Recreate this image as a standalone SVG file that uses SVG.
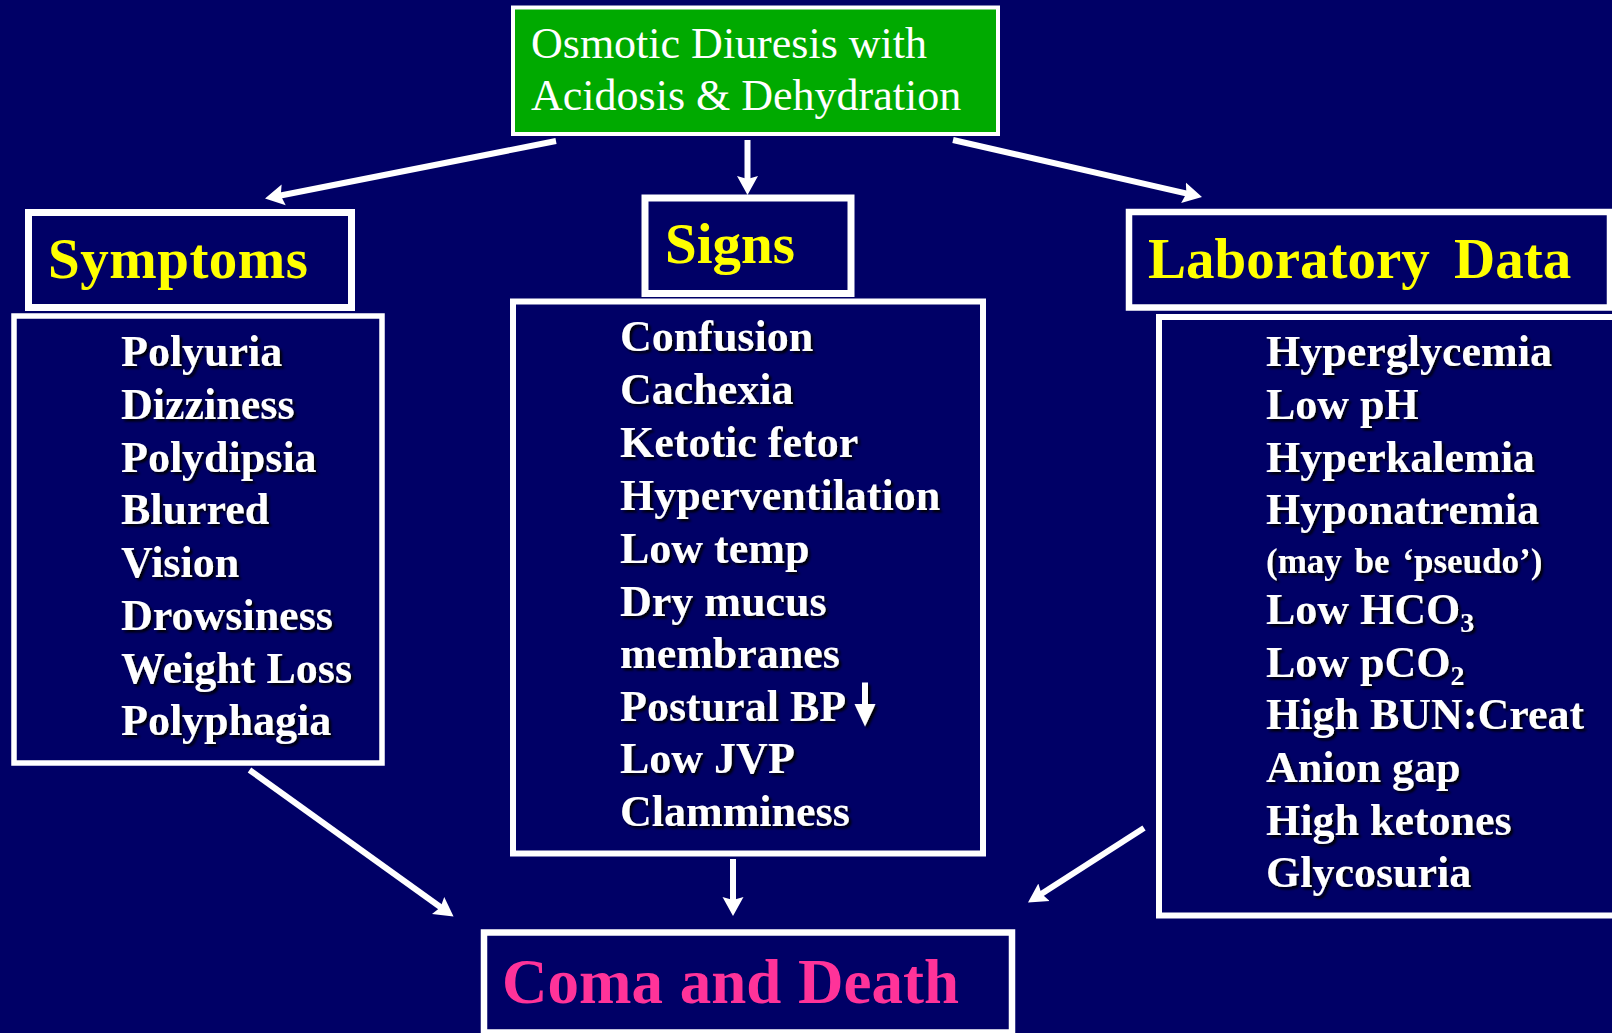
<svg xmlns="http://www.w3.org/2000/svg" width="1612" height="1033" viewBox="0 0 1612 1033">
<style>
.box{fill:#000066;stroke:#ffffff}
.title{font-family:"Liberation Serif","Times New Roman",serif;font-weight:bold;font-size:57px;fill:#ffff00}
.item{font-family:"Liberation Serif","Times New Roman",serif;font-weight:bold;font-size:44px;fill:#ffffff;filter:url(#sh)}
.top{font-family:"Liberation Serif","Times New Roman",serif;font-size:44px;fill:#ffffff}
.conn{stroke:#ffffff;stroke-width:6;fill:none;marker-end:url(#ah)}
</style>
<defs>
<filter id="sh" x="-10%" y="-30%" width="130%" height="160%">
<feDropShadow dx="2.5" dy="2.5" stdDeviation="0.8" flood-color="#000000" flood-opacity="0.95"/>
</filter>
<marker id="ah" markerUnits="userSpaceOnUse" markerWidth="21" markerHeight="23" viewBox="0 0 21 23" refX="7" refY="11.5" orient="auto">
<path d="M0,1 L19,11.5 L0,22 L3,11.5 z" fill="#ffffff"/>
</marker>
</defs>
<rect x="0" y="0" width="1612" height="1033" fill="#000066"/>

<g id="osmotic">
<rect x="513" y="7.5" width="485" height="126.5" fill="#00aa00" stroke="#ffffff" stroke-width="4"/>
<text class="top" x="531" y="58">Osmotic Diuresis with</text>
<text class="top" x="531" y="110">Acidosis &amp; Dehydration</text>
</g>

<g id="symptoms-title">
<rect class="box" x="28.5" y="212.5" width="323" height="95" stroke-width="7"/>
<text class="title" x="48" y="278" style="letter-spacing:0.5px">Symptoms</text>
</g>

<g id="signs-title">
<rect class="box" x="645" y="198" width="206" height="95.5" stroke-width="7"/>
<text class="title" x="665" y="263">Signs</text>
</g>

<g id="lab-title">
<rect class="box" x="1129" y="212" width="481" height="95.5" stroke-width="6.5"/>
<text class="title" x="1148" y="278" style="word-spacing:10px">Laboratory Data</text>
</g>

<g id="symptoms-list">
<rect class="box" x="14" y="316" width="368" height="447" stroke-width="5.5"/>
<text class="item" x="121" y="366">Polyuria</text>
<text class="item" x="121" y="418.5">Dizziness</text>
<text class="item" x="121" y="471.5">Polydipsia</text>
<text class="item" x="121" y="524">Blurred</text>
<text class="item" x="121" y="577">Vision</text>
<text class="item" x="121" y="630">Drowsiness</text>
<text class="item" x="121" y="682.5">Weight Loss</text>
<text class="item" x="121" y="735">Polyphagia</text>
</g>

<g id="signs-list">
<rect class="box" x="513" y="301.5" width="470" height="552" stroke-width="6"/>
<text class="item" x="620" y="351">Confusion</text>
<text class="item" x="620" y="404">Cachexia</text>
<text class="item" x="620" y="456.5">Ketotic fetor</text>
<text class="item" x="620" y="510">Hyperventilation</text>
<text class="item" x="620" y="563">Low temp</text>
<text class="item" x="620" y="615.5">Dry mucus</text>
<text class="item" x="620" y="668">membranes</text>
<text class="item" x="620" y="721">Postural BP</text>
<g filter="url(#sh)">
<rect x="862" y="682.5" width="6" height="24" fill="#ffffff"/>
<polygon points="854.5,704 875.5,704 865,726.5" fill="#ffffff"/>
</g>
<text class="item" x="620" y="773">Low JVP</text>
<text class="item" x="620" y="826">Clamminess</text>
</g>

<g id="lab-list">
<rect class="box" x="1159" y="317" width="460" height="598.5" stroke-width="6"/>
<text class="item" x="1266" y="366">Hyperglycemia</text>
<text class="item" x="1266" y="418.5">Low pH</text>
<text class="item" x="1266" y="472">Hyperkalemia</text>
<text class="item" x="1266" y="524">Hyponatremia</text>
<text class="item" x="1266" y="573" style="font-size:35px;word-spacing:4px">(may be ‘pseudo’)</text>
<text class="item" x="1266" y="624">Low HCO<tspan font-size="28" dy="8">3</tspan></text>
<text class="item" x="1266" y="677">Low pCO<tspan font-size="28" dy="8">2</tspan></text>
<text class="item" x="1266" y="729">High BUN:Creat</text>
<text class="item" x="1266" y="781.5">Anion gap</text>
<text class="item" x="1266" y="835">High ketones</text>
<text class="item" x="1266" y="887">Glycosuria</text>
</g>

<g id="coma">
<rect class="box" x="484" y="932.5" width="528" height="100" stroke-width="6.5"/>
<text x="502" y="1002.5" style="font-family:'Liberation Serif','Times New Roman',serif;font-weight:bold;font-size:63px;fill:#ff3399;word-spacing:1px">Coma and Death</text>
</g>

<g id="connectors">
<line class="conn" x1="556" y1="141" x2="276.8" y2="196.2"/>
<line class="conn" x1="747.5" y1="140" x2="747.5" y2="183"/>
<line class="conn" x1="953" y1="140" x2="1190.3" y2="194.3"/>
<line class="conn" x1="249.5" y1="770" x2="443.8" y2="909.5"/>
<line class="conn" x1="733" y1="859" x2="733" y2="904"/>
<line class="conn" x1="1144" y1="828" x2="1038.1" y2="896"/>
</g>
</svg>
